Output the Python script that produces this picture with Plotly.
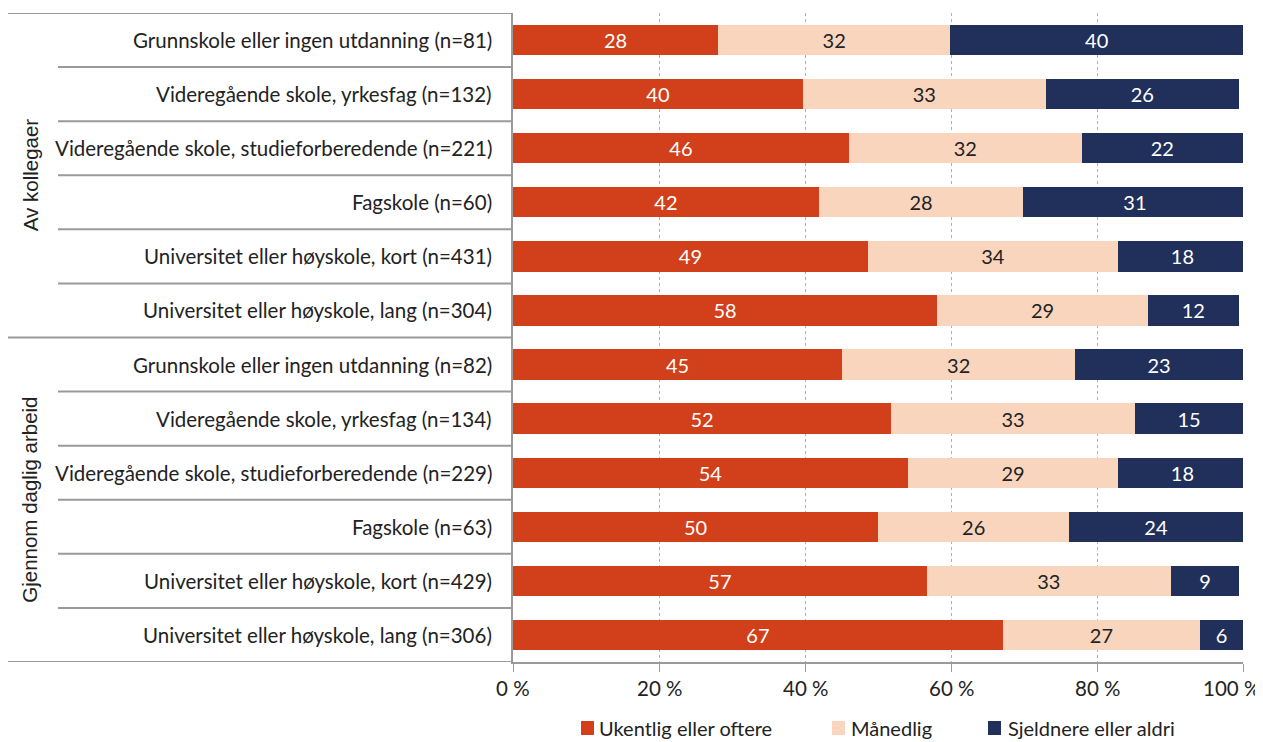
import plotly.graph_objects as go

categories = [
    "Grunnskole eller ingen utdanning (n=81)",
    "Videregående skole, yrkesfag (n=132)",
    "Videregående skole, studieforberedende (n=221)",
    "Fagskole (n=60)",
    "Universitet eller høyskole, kort (n=431)",
    "Universitet eller høyskole, lang (n=304)",
    "Grunnskole eller ingen utdanning (n=82)",
    "Videregående skole, yrkesfag (n=134)",
    "Videregående skole, studieforberedende (n=229)",
    "Fagskole (n=63)",
    "Universitet eller høyskole, kort (n=429)",
    "Universitet eller høyskole, lang (n=306)",
]
groups = ["Av kollegaer", "Gjennom daglig arbeid"]
group_sizes = [6, 6]

series_names = ["Ukentlig eller oftere", "Månedlig", "Sjeldnere eller aldri"]
weekly = [28.1, 39.7, 46.0, 41.9, 48.6, 58.1, 45.1, 51.8, 54.1, 50.0, 56.7, 67.1]
monthly = [31.8, 33.3, 31.9, 28.0, 34.3, 28.9, 31.9, 33.4, 28.8, 26.2, 33.4, 27.0]
rarely = [40.1, 26.4, 22.1, 30.6, 17.6, 12.4, 23.0, 14.8, 17.6, 23.8, 9.4, 5.9]

tick_vals = [0, 20, 40, 60, 80, 100]
tick_text = ["0 %", "20 %", "40 %", "60 %", "80 %", "100 %"]

colors = ["#D1401A", "#F9D5BE", "#21305A"]
text_colors = ["#FFFFFF", "#222222", "#FFFFFF"]
FONT = "Lato"
GFONT = "Liberation Sans"
TXT = "#222222"

# page body has an 8px margin, so figure coordinates are offset by 8px
W, H = 1263, 742
ML, MR, MT, MB = 505, 28, 5, 88
PW = W - ML - MR
PH = H - MT - MB


def px_x(fx):
    return (fx - ML) / PW


def px_y(fy):
    return 1 - (fy - MT) / PH


fig = go.Figure()
for name, vals, c, tc in zip(series_names, [weekly, monthly, rarely], colors, text_colors):
    fig.add_trace(go.Bar(
        y=categories, x=vals, name=name, orientation="h",
        marker=dict(color=c, line=dict(width=0)),
        texttemplate="%{x:.0f}", textposition="inside", insidetextanchor="middle",
        textfont=dict(color=tc, size=20, family=FONT),
        constraintext="none", hoverinfo="skip", showlegend=False,
    ))

n = len(categories)
shapes = []
line_col = "#9A9A9A"
x_left_group = px_x(0)
x_left_sep = px_x(50)
shapes.append(dict(type="line", xref="paper", yref="y", x0=x_left_group, x1=0, y0=-0.5, y1=-0.5,
                   line=dict(color=line_col, width=2)))
boundaries = [sum(group_sizes[:i + 1]) for i in range(len(group_sizes))]
for i in range(1, n + 1):
    yv = i - 0.5
    x0 = x_left_group if i in boundaries else x_left_sep
    shapes.append(dict(type="line", xref="paper", yref="y", x0=x0, x1=0, y0=yv, y1=yv,
                       line=dict(color=line_col, width=2)))

annotations = []
for cat in categories:
    annotations.append(dict(x=0, xref="paper", y=cat, yref="y", text=cat, showarrow=False,
                            xanchor="right", xshift=-19, font=dict(size=20.5, family=FONT, color=TXT)))
start = 0
for g, s in zip(groups, group_sizes):
    mid = start + (s - 1) / 2
    annotations.append(dict(x=px_x(22), xref="paper", y=mid, yref="y", text=g, showarrow=False,
                            textangle=-90, xanchor="center", yanchor="middle",
                            font=dict(size=20.5, family=GFONT, color=TXT)))
    start += s

# x tick labels (last one right-aligned so it stays inside the page, as in the original)
for v, t in zip(tick_vals, tick_text):
    last = v == tick_vals[-1]
    annotations.append(dict(x=v, xref="x", y=0, yref="paper", text=t, showarrow=False,
                            xanchor="right" if last else "center", xshift=19 if last else 0,
                            yanchor="middle", yshift=-26,
                            font=dict(size=20.5, family=FONT, color=TXT)))

# legend drawn by hand to match the original spacing
legend_sq_x = [573, 824, 980]   # figure px (screen - 8)
legend_txt_x = [589, 841, 998]
leg_cy = 720
for name, c, sx, tx in zip(series_names, colors, legend_sq_x, legend_txt_x):
    shapes.append(dict(type="rect", xref="paper", yref="paper",
                       x0=px_x(sx), x1=px_x(sx + 13), y0=px_y(leg_cy + 7), y1=px_y(leg_cy - 7),
                       fillcolor=c, line=dict(width=0)))
    annotations.append(dict(x=px_x(tx), xref="paper", y=px_y(leg_cy), yref="paper", text=name,
                            showarrow=False, xanchor="left", yanchor="middle",
                            font=dict(size=20, family=FONT, color=TXT)))

fig.update_layout(
    barmode="stack", bargap=0.44,
    width=W, height=H,
    margin=dict(l=ML, r=MR, t=MT, b=MB, autoexpand=False),
    plot_bgcolor="white", paper_bgcolor="white",
    font=dict(family=FONT, size=20, color=TXT),
    shapes=shapes, annotations=annotations,
    showlegend=False,
    xaxis=dict(range=[0, 100], tickvals=tick_vals, showticklabels=False,
               showgrid=True, gridcolor="#B0B0B0", griddash="dot", gridwidth=1,
               showline=True, linecolor=line_col, linewidth=2,
               ticks="outside", ticklen=8, tickcolor=line_col, tickwidth=1,
               zeroline=False, fixedrange=True, automargin=False),
    yaxis=dict(categoryorder="array", categoryarray=categories, range=[n - 0.5, -0.5],
               showticklabels=False, showgrid=False, showline=True, linecolor=line_col, linewidth=2,
               ticks="", zeroline=False, fixedrange=True, automargin=False),
)

fig.write_html("out.html")
